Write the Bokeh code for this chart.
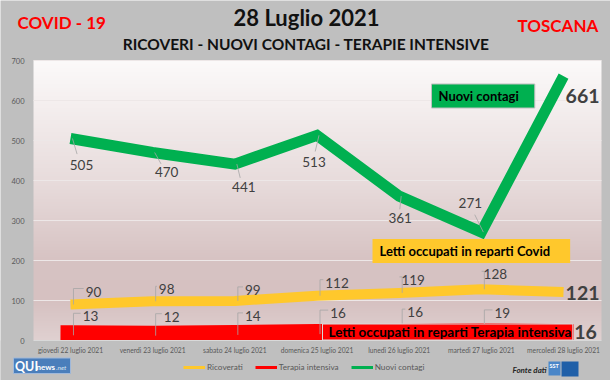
import numpy as np
from bokeh.plotting import figure
from bokeh.models import (Range1d, FixedTicker, Label, Legend, LegendItem, ColumnDataSource,
                          LinearAxis)
from bokeh.embed import file_html
from bokeh.resources import INLINE
from bokeh.core.properties import value

# ---------------- data ----------------
days = ["giovedì 22 luglio 2021", "venerdì 23 luglio 2021", "sabato 24 luglio 2021",
        "domenica 25 luglio 2021", "lunedì 26 luglio 2021", "martedì 27 luglio 2021",
        "mercoledì 28 luglio 2021"]
ricoverati = [90, 98, 99, 112, 119, 128, 121]
terapia_intensiva = [13, 12, 14, 16, 16, 19, 16]
nuovi_contagi = [505, 470, 441, 513, 361, 271, 661]
y_ticks = [0, 100, 200, 300, 400, 500, 600, 700]

# ---------------- layout (picture pixels) ----------------
W, H = 610, 380
PX0, PX1 = 33, 601        # plot area left / right
PY1, PY0 = 60, 340        # plot area top / bottom (value 0)
X0, X1 = -0.45, 6.462     # category axis extent
Y0, Y1 = 0, 700
kx = (X1 - X0) / (PX1 - PX0)
ky = (Y1 - Y0) / (PY0 - PY1)


def dx(px):
    return X0 + (px - PX0) * kx


def dy(py):
    return Y0 + (PY0 - py) * ky


FONT = "Lato"
GRAY_BG = "#bfbfbf"
RED, YEL, GRN = "#ff0000", "#ffc82c", "#00b050"

p = figure(width=W, height=H, x_range=Range1d(dx(0), dx(W)), y_range=Range1d(dy(H), dy(0)),
           x_axis_location=None, y_axis_location=None, min_border=0,
           output_backend="svg", toolbar_location=None)
p.border_fill_color = GRAY_BG
p.background_fill_color = GRAY_BG
p.outline_line_color = None
p.grid.visible = False

# plot-area gradient
n = 280
t = np.linspace(Y0, Y1, n)
sv = [0, 100, 200, 400, 700]
cr = [[224, 209, 209], [214, 193, 193], [215, 195, 195], [232, 220, 220], [252, 250, 250]]
img = np.empty((n, 1), dtype=np.uint32)
view = img.view(dtype=np.uint8).reshape((n, 1, 4))
for k in range(3):
    view[:, 0, k] = np.interp(t, sv, [c[k] for c in cr]).astype(np.uint8)
view[:, 0, 3] = 255
p.image_rgba(image=[img], x=X0, y=Y0, dw=X1 - X0, dh=Y1 - Y0, level="image")

# grid lines inside the plot area
gt = y_ticks[1:]
p.segment(x0=[X0] * len(gt), y0=gt, x1=[X1] * len(gt), y1=gt, line_color="#ede7e7",
          line_width=1, level="underlay")

# axes at fixed locations
yax = LinearAxis(fixed_location=X0, ticker=FixedTicker(ticks=y_ticks), bounds=(Y0, Y1))
yax.axis_line_color = None
yax.major_tick_line_color = None
yax.minor_tick_line_color = None
yax.major_tick_out = 0
yax.major_tick_in = 0
yax.major_label_standoff = 9
yax.major_label_text_font = FONT
yax.major_label_text_font_size = "7.5px"
yax.major_label_text_color = "#595959"
p.add_layout(yax, "left")

xs = list(range(len(days)))
xax = LinearAxis(fixed_location=Y0, ticker=FixedTicker(ticks=xs), bounds=(X0, X1))
xax.major_label_overrides = {i: d for i, d in enumerate(days)}
xax.axis_line_color = "#d9d9d9"
xax.major_tick_line_color = None
xax.minor_tick_line_color = None
xax.major_tick_out = 0
xax.major_tick_in = 0
xax.major_label_standoff = 5
xax.major_label_text_font = FONT
xax.major_label_text_font_size = "6.7px"
xax.major_label_text_color = "#595959"
p.add_layout(xax, "below")

# series lines
p.line(xs, terapia_intensiva, line_color=RED, line_width=20, line_cap="square", line_join="miter")
p.line(xs, ricoverati, line_color=YEL, line_width=10, line_join="round")
p.line(xs, nuovi_contagi, line_color=GRN, line_width=11, line_join="miter")

# mask below the value axis (the thick red line must stop at 0)
p.quad(left=[dx(0)], right=[dx(W)], bottom=[dy(H)], top=[Y0], fill_color=GRAY_BG,
       line_color=None)

# label offsets (px) and leader lines
LEAD = "#a6a6a6"
g_off = [(11, 26), (14, 19), (9, 23), (-3, 27), (1, 22), (-11, -29)]
y_off = [(23, -13), (14, -12), (18, -11), (20, -13), (14, -13), (14, -15)]
r_off = [(20, -19), (19, -19), (18, -19), (21, -21), (16, -22), (21, -20)]

gx, gy = [], []
for i, (ox, oy) in enumerate(g_off):
    v = nuovi_contagi[i]
    gx.append([i + 2 * kx, i + 0.6 * ox * kx])
    gy.append([v, v - 0.6 * oy * ky])
ly_x, ly_y = [], []
for vals, offs in ((ricoverati, y_off), (terapia_intensiva, r_off)):
    for i, (ox, oy) in enumerate(offs):
        v = vals[i]
        w = 0.58 * 13.5 * len(str(v))
        xa = i + 3 * kx
        xb = i + (ox - w / 2 - 2) * kx
        yb = max(v - (oy - 3) * ky, Y0)
        ly_x.append([xa, xa, xb])
        ly_y.append([max(v, Y0 + 1), yb, yb])
p.multi_line(gx + ly_x, gy + ly_y, line_color=LEAD, line_width=0.8)


def put_labels(vals, offs):
    m = len(offs)
    src = ColumnDataSource(dict(x=xs[:m], y=vals[:m], t=[str(v) for v in vals[:m]],
                                xo=[o[0] for o in offs], yo=[o[1] for o in offs]))
    p.text(x="x", y="y", text="t", x_offset="xo", y_offset="yo", source=src,
           text_align="center", text_baseline="middle", text_font=value(FONT),
           text_font_size="13.5px", text_color="#404040")


put_labels(nuovi_contagi, g_off)
put_labels(ricoverati, y_off)
put_labels(terapia_intensiva, r_off)

last = len(days) - 1
end_src = ColumnDataSource(dict(x=[last] * 3,
                                y=[nuovi_contagi[last], ricoverati[last], terapia_intensiva[last]],
                                t=[str(nuovi_contagi[last]), str(ricoverati[last]),
                                   str(terapia_intensiva[last])],
                                xo=[19, 19, 22], yo=[20, 1, -2]))
p.text(x="x", y="y", text="t", x_offset="xo", y_offset="yo", source=end_src,
       text_align="center", text_baseline="middle", text_font=value(FONT),
       text_font_size="19.5px", text_font_style="bold", text_color="#404040")


# boxed series labels: (x, y) = left edge of the box, vertical middle, in picture px
def box_label(text, x, y, fill, pad, size, border=None):
    lab = Label(x=x, y=H - y, x_units="screen", y_units="screen", text=text,
                text_font=FONT, text_font_size=size, text_font_style="bold",
                text_color="#000000", text_align="left", text_baseline="middle",
                background_fill_color=fill, border_line_color=border, padding=pad)
    p.add_layout(lab)


box_label("Nuovi contagi", 431, 95.5, GRN, dict(left=7, right=16, top=4, bottom=4), "13px",
          border="#bfbfbf")
box_label("Letti occupati in reparti Covid", 372, 250.5, YEL,
          dict(left=7, right=20, top=4, bottom=4), "13px")
box_label("Letti occupati in reparti Terapia intensiva", 322, 331.5, RED,
          dict(left=6, right=1, top=0, bottom=0), "13.5px", border="#d9d9d9")


# ---------------- titles ----------------
def stext(text, x, y, size, color, align="left", style="bold"):
    p.text(x=[dx(x)], y=[dy(y)], text=[text], text_align=align, text_baseline="middle",
           text_font=value(FONT), text_font_size=size, text_font_style=style,
           text_color=color)


stext("COVID - 19", 17, 22, "17px", RED)
stext("28 Luglio 2021", 306, 17, "22px", "#111111", align="center")
stext("RICOVERI - NUOVI CONTAGI - TERAPIE INTENSIVE", 305.5, 43, "15.5px", "#111111",
      align="center")
stext("TOSCANA", 517, 25, "17px", RED)

# ---------------- legend ----------------
hx, hy = [dx(-60), dx(-50)], [dy(-60), dy(-60)]
lr = p.line(hx, hy, line_color=YEL, line_width=3)
lt = p.line(hx, hy, line_color=RED, line_width=3)
ln = p.line(hx, hy, line_color=GRN, line_width=3)
legend = Legend(items=[LegendItem(label="Ricoverati", renderers=[lr]),
                       LegendItem(label="Terapia intensiva", renderers=[lt]),
                       LegendItem(label="Nuovi contagi", renderers=[ln])],
                orientation="horizontal", location=(183, 8),
                padding=0, margin=0, spacing=12, glyph_width=22, glyph_height=10,
                label_height=10, label_standoff=2, label_text_font=FONT,
                label_text_font_size="8.2px", label_text_color="#595959",
                background_fill_alpha=0, border_line_color=None)
p.add_layout(legend)

# ---------------- logos ----------------
p.quad(left=[dx(13)], right=[dx(70)], top=[dy(357.5)], bottom=[dy(373)], fill_color="#4a7ebb",
       line_color="#9fb8da", line_width=1)
stext("QUI", 14.5, 365.5, "12.5px", "#ffffff")
stext("news", 36, 366.5, "8px", "#ffffff")
stext(".net", 55.5, 367, "6.5px", "#dce6f2", style="italic")

stext("Fonte dati", 512, 369, "8px", "#262626", style="bold italic")
p.quad(left=[dx(548)], right=[dx(560)], top=[dy(361)], bottom=[dy(375)], fill_color="#4a86c8",
       line_color=None)
p.quad(left=[dx(561)], right=[dx(578)], top=[dy(361)], bottom=[dy(376)], fill_color="#1f5fa8",
       line_color=None)
stext("SST", 549, 365, "5.5px", "#ffffff")

open("out.html", "w").write(file_html(p, INLINE))
